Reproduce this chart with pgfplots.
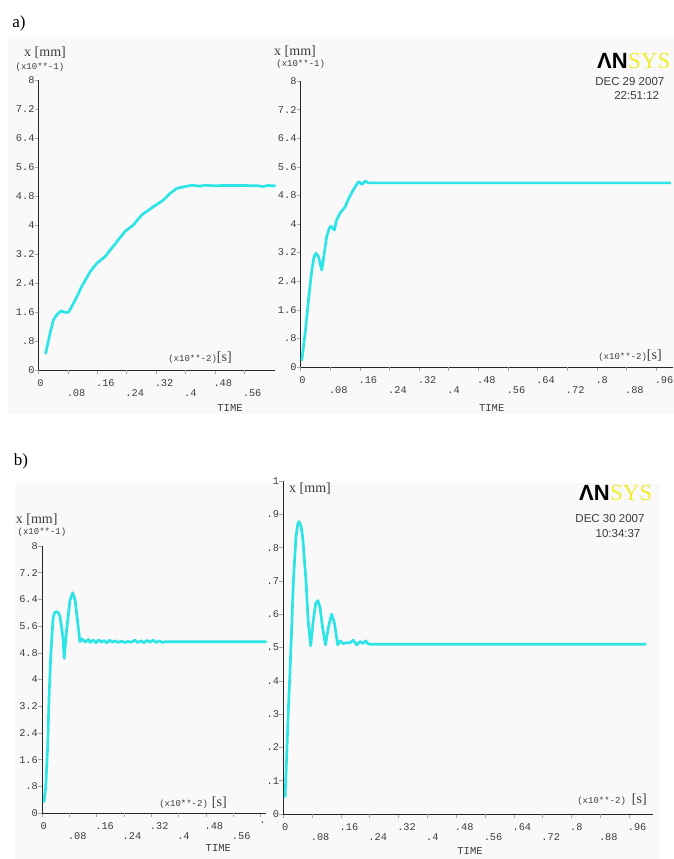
\documentclass[border=0pt]{standalone}
\usepackage{fontspec}
\setmainfont{Liberation Serif}
\newfontfamily\monof{Liberation Mono}
\newfontfamily\sansf{Liberation Sans}
\usepackage{pgfplots}
\pgfplotsset{compat=1.18}

\definecolor{curve}{RGB}{45,228,230}
\definecolor{ansysyel}{RGB}{238,238,50}
\definecolor{bg}{RGB}{249,249,249}
\definecolor{lbl}{RGB}{60,60,60}

\pgfplotsset{
  ansys/.style={
    scale only axis,
    axis x line*=bottom, axis y line*=left,
    axis line style={black!85, line width=0.9pt},
    tick align=outside,
    major tick length=4pt,
    tick style={black!35, line width=0.6pt},
    tick label style={font=\monof\fontsize{10.3}{11}\selectfont, text=lbl},
    xticklabel style={anchor=north west, inner sep=0pt, xshift=-1.5pt, yshift=-5pt},
    yticklabel style={anchor=east, inner sep=0pt, xshift=0pt},
    extra x tick style={xticklabel style={yshift=-10.5pt}},
    xmin=0, ymin=0,
    clip=false,
  },
  ansys8/.style={ymax=8, ytick={0,0.8,...,8.01},
    yticklabels={0,.8,1.6,2.4,3.2,4,4.8,5.6,6.4,7.2,8}},
  curve/.style={color=curve, line width=2.7pt, line join=round, line cap=round},
}

\newcommand{\mmlab}{{\fontsize{14}{14}\selectfont x [mm]}}
\newcommand{\mult}[1]{{\monof\fontsize{9}{9}\selectfont (x10**-#1)}}
\newcommand{\seclab}{{\fontsize{14}{14}\selectfont [s]}}
\newcommand{\timelab}{{\monof\fontsize{10.5}{11}\selectfont TIME}}

\begin{document}
\begin{tikzpicture}
\path[use as bounding box] (0pt,0pt) rectangle (674pt,-859pt);
\fill[bg] (8pt,-37pt) rectangle (674pt,-414pt);
\fill[bg] (15pt,-483pt) rectangle (660pt,-859pt);

% ---------- a) left
\begin{axis}[ansys, ansys8, at={(38.7pt,-370pt)}, anchor=south west,
  width=236.3pt, height=290pt, xmax=0.644,
  xtick={0,0.16,0.32,0.48}, xticklabels={0,.16,.32,.48},
  extra x ticks={0.08,0.24,0.4,0.56}, extra x tick labels={.08,.24,.4,.56}]
\addplot[curve] coordinates {
 (0.019,0.46)(0.031,1.01)(0.040,1.38)(0.049,1.52)(0.061,1.63)(0.072,1.59)
 (0.081,1.59)(0.090,1.75)(0.104,2.02)(0.117,2.30)(0.140,2.71)(0.158,2.94)
 (0.181,3.13)(0.199,3.36)(0.217,3.59)(0.235,3.82)(0.258,4.00)(0.281,4.28)
 (0.312,4.50)(0.340,4.69)(0.358,4.87)(0.376,5.01)(0.399,5.06)(0.417,5.10)
 (0.440,5.07)(0.452,5.10)(0.476,5.08)(0.500,5.09)(0.560,5.09)(0.600,5.08)
 (0.612,5.06)(0.624,5.09)(0.644,5.08)};
\end{axis}

% ---------- a) right
\begin{axis}[ansys, ansys8, at={(300.7pt,-367pt)}, anchor=south west,
  width=372pt, height=286pt, xmax=1.005,
  xtick={0,0.16,0.32,0.48,0.64,0.8,0.96}, xticklabels={0,.16,.32,.48,.64,.8,.96},
  extra x ticks={0.08,0.24,0.4,0.56,0.72,0.88}, extra x tick labels={.08,.24,.4,.56,.72,.88}]
\addplot[curve] coordinates {
 (0.003,0.20)(0.012,0.94)(0.021,1.87)(0.030,2.71)(0.036,3.08)(0.041,3.18)
 (0.048,3.09)(0.057,2.71)(0.061,2.99)(0.070,3.64)(0.077,3.88)(0.082,3.94)
 (0.091,3.83)(0.097,4.11)(0.106,4.30)(0.120,4.48)(0.129,4.70)(0.142,4.95)
 (0.156,5.18)(0.165,5.11)(0.174,5.20)(0.183,5.15)(0.998,5.15)};
\end{axis}

% ---------- b) left
\begin{axis}[ansys, ansys8, at={(42pt,-813pt)}, anchor=south west,
  width=223.7pt, height=267pt, xmax=0.655,
  xtick={0,0.16,0.32,0.48,0.64}, xticklabels={0,.16,.32,.48,.},
  extra x ticks={0.08,0.24,0.4,0.56}, extra x tick labels={.08,.24,.4,.56}]
\addplot[curve] coordinates {
 (0.006,0.34)(0.011,0.79)(0.017,2.09)(0.021,3.58)(0.025,4.58)(0.029,5.30)
 (0.033,5.88)(0.038,6.02)(0.043,6.03)(0.048,6.00)(0.053,5.88)(0.061,5.28)
 (0.065,4.63)(0.072,5.48)(0.082,6.38)(0.090,6.60)(0.097,6.38)(0.106,5.58)
 (0.111,5.13)(0.116,5.22)(0.121,5.18)(0.126,5.12)(0.131,5.16)(0.136,5.20)
 (0.141,5.11)(0.150,5.18)(0.158,5.10)(0.166,5.19)(0.174,5.12)(0.182,5.17)
 (0.190,5.10)(0.198,5.18)(0.206,5.12)(0.214,5.16)(0.222,5.11)(0.232,5.15)
 (0.242,5.11)(0.252,5.14)(0.262,5.12)(0.272,5.18)(0.280,5.11)(0.290,5.16)
 (0.298,5.10)(0.308,5.17)(0.316,5.12)(0.326,5.18)(0.334,5.11)(0.344,5.16)
 (0.352,5.11)(0.360,5.13)(0.655,5.13)};
\end{axis}

% ---------- b) right
\begin{axis}[ansys, at={(283.3pt,-814pt)}, anchor=south west,
  width=370pt, height=333pt, xmax=1.027, ymax=1,
  ytick={0,0.1,...,1.01}, yticklabels={0,.1,.2,.3,.4,.5,.6,.7,.8,.9,1},
  xtick={0,0.16,0.32,0.48,0.64,0.8,0.96}, xticklabels={0,.16,.32,.48,.64,.8,.96},
  extra x ticks={0.08,0.24,0.4,0.56,0.72,0.88}, extra x tick labels={.08,.24,.4,.56,.72,.88}]
\addplot[curve] coordinates {
 (0.005,0.052)(0.009,0.162)(0.014,0.31)(0.019,0.44)(0.023,0.55)(0.028,0.70)
 (0.035,0.83)(0.040,0.87)(0.044,0.878)(0.049,0.865)(0.054,0.83)(0.063,0.70)
 (0.069,0.58)(0.076,0.505)(0.083,0.58)(0.090,0.633)(0.096,0.641)(0.102,0.62)
 (0.109,0.56)(0.117,0.508)(0.125,0.56)(0.134,0.60)(0.142,0.573)(0.151,0.508)
 (0.158,0.52)(0.165,0.512)(0.175,0.514)(0.185,0.514)(0.194,0.522)(0.204,0.508)
 (0.213,0.518)(0.221,0.512)(0.229,0.520)(0.236,0.510)(1.005,0.51)};
\end{axis}

% ---------- texts
\node[font=\fontsize{17}{17}\selectfont] at (19pt,-23pt) {a)};
\node[font=\fontsize{17}{17}\selectfont] at (21pt,-461pt) {b)};

\node[text=lbl] at (45pt,-53pt) {\mmlab};
\node[text=lbl] at (40pt,-67pt) {\mult{1}};
\node[text=lbl] at (200pt,-357.7pt) {\mult{2}\seclab};
\node[text=lbl] at (230pt,-407.7pt) {\timelab};

\node[text=lbl] at (295pt,-51.7pt) {\mmlab};
\node[text=lbl] at (300.7pt,-64.3pt) {\mult{1}};
\node[text=lbl] at (630pt,-356pt) {\mult{2}\seclab};
\node[text=lbl] at (491.7pt,-407.7pt) {\timelab};
\node[anchor=east, inner sep=0pt, font=\sansf\bfseries\fontsize{22}{22}\selectfont] at (628pt,-61pt) {ΛN};
\node[anchor=west, inner sep=0pt, text=ansysyel, font=\fontsize{23}{23}\selectfont] at (628pt,-61pt) {SYS};
\node[text=lbl, font=\sansf\fontsize{11.5}{12}\selectfont] at (629.8pt,-81.7pt) {DEC 29 2007};
\node[text=lbl, font=\sansf\fontsize{11.5}{12}\selectfont] at (636.7pt,-96pt) {22:51:12};

\node[text=lbl] at (36.7pt,-520pt) {\mmlab};
\node[text=lbl] at (42pt,-532.3pt) {\mult{1}};
\node[text=lbl] at (193pt,-802.3pt) {\mult{2}\hspace{4pt}\seclab};
\node[text=lbl] at (218.3pt,-847.7pt) {\timelab};

\node[text=lbl] at (310pt,-488.3pt) {\mmlab};
\node[text=lbl] at (612pt,-799.3pt) {\mult{2}\hspace{6pt}\seclab};
\node[text=lbl] at (470pt,-851pt) {\timelab};
\node[anchor=east, inner sep=0pt, font=\sansf\bfseries\fontsize{22}{22}\selectfont] at (610pt,-493pt) {ΛN};
\node[anchor=west, inner sep=0pt, text=ansysyel, font=\fontsize{23}{23}\selectfont] at (610pt,-493pt) {SYS};
\node[text=lbl, font=\sansf\fontsize{11.5}{12}\selectfont] at (610pt,-518.3pt) {DEC 30 2007};
\node[text=lbl, font=\sansf\fontsize{11.5}{12}\selectfont] at (618pt,-533.3pt) {10:34:37};
\end{tikzpicture}
\end{document}
